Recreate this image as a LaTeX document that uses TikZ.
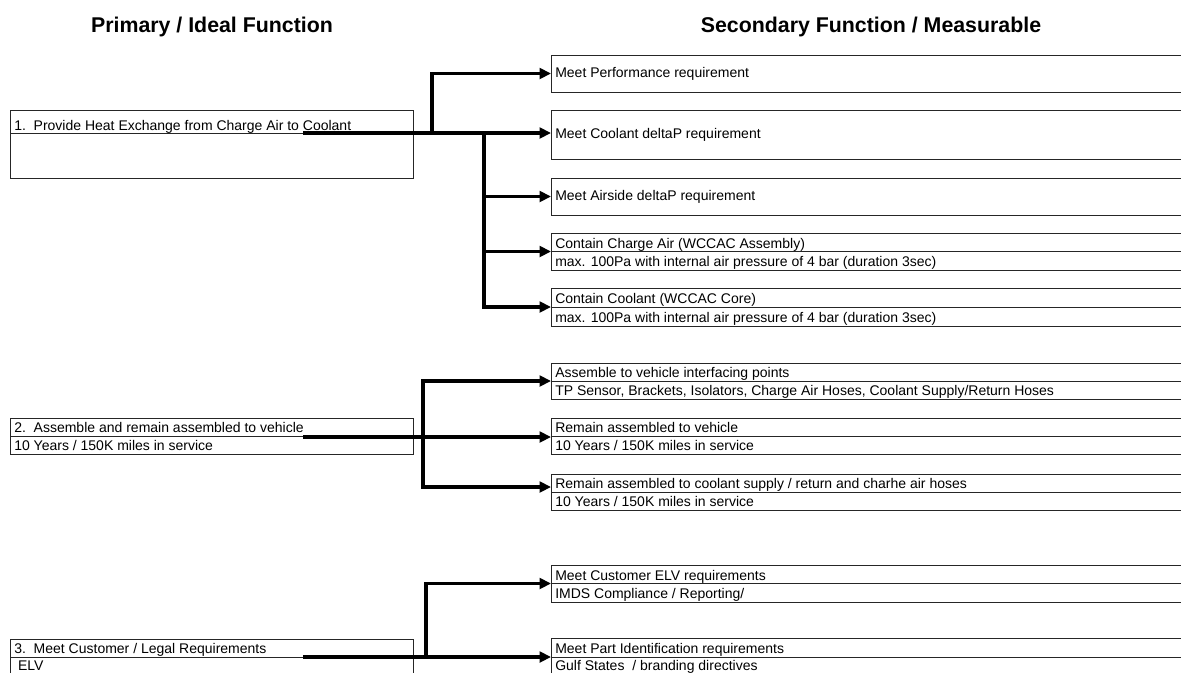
\documentclass[tikz,border=0pt]{standalone}
\usepackage{fontspec}
\setmainfont{Liberation Sans}
\usetikzlibrary{arrows.meta,fit}
\begin{document}
\begin{tikzpicture}[x=0.75pt,y=-0.75pt,
  box/.style={draw=black!85, line width=0.75pt, fill=white, inner sep=0pt, outer sep=0pt},
  divline/.style={draw=black!85, line width=0.75pt},
  lbl/.style={font=\fontsize{10.5}{12}\selectfont, inner sep=0pt, anchor=base west, text=black},
  slbl/.style={lbl, anchor=west},
  ttl/.style={font=\fontsize{16}{19}\selectfont\bfseries, inner sep=0pt, text=black},
  conn/.style={line width=2.9pt, -{Triangle[length=8.5pt,width=8pt]}}]
\useasboundingbox[fill=white] (0,0) rectangle (1181,672);

% titles
\node[ttl] (h1) at (212,27) {Primary / Ideal Function};
\node[ttl] (h2) at (871,27) {Secondary Function / Measurable};

% corner coordinates
\foreach \n/\xa/\ya/\xb/\yb in {
  p1/10/110/413/178, p2/10/418/413/454, p3/10/639/413/676,
  r1/551/55/1200/92, r2/551/110/1200/159, r3/551/178/1200/215,
  r4/551/233/1200/270, r5/551/288/1200/326, r6/551/363/1200/399,
  r7/551/418/1200/454, r8/551/474/1200/510, r9/551/565/1200/602,
  r10/551/638/1200/676}{
  \coordinate (\n a) at (\xa,\ya);
  \coordinate (\n b) at (\xb,\yb);
}

% left boxes
\node[box, fit=(p1a)(p1b)] (p1) {};
\node[box, fit=(p2a)(p2b)] (p2) {};
\node[box, fit=(p3a)(p3b)] (p3) {};
\draw[divline] (10,133) -- (413,133);
\draw[divline] (p2.west) -- (p2.east);
\draw[divline] (p3.west) -- (p3.east);

% right boxes
\foreach \n in {r1,r2,r3,r4,r5,r6,r7,r8,r9,r10}{
  \node[box, fit=(\n a)(\n b)] (\n) {};
}
\foreach \n in {r4,r5,r6,r7,r8,r9,r10}{
  \draw[divline] (\n.west) -- (\n.east);
}

% left texts
\node[lbl] (tp1) at (14,130) {1.\ \ Provide Heat Exchange from Charge Air to Coolant};
\node[lbl] (tp2a) at (14,432.5) {2.\ \ Assemble and remain assembled to vehicle};
\node[lbl] (tp2b) at (14,450.5) {10 Years / 150K miles in service};
\node[lbl] (tp3a) at (14,653.5) {3.\ \ Meet Customer / Legal Requirements};
\node[lbl] (tp3b) at (14,670.5) {\ ELV};

% right texts
\node[slbl] (tr1) at (555,73.5) {Meet Performance requirement};
\node[slbl] (tr2) at (555,134.5) {Meet Coolant deltaP requirement};
\node[slbl] (tr3) at (555,196.5) {Meet Airside deltaP requirement};
\node[lbl] (tr4a) at (555,248) {Contain Charge Air (WCCAC Assembly)};
\node[lbl] (tr4b) at (555,266.5) {max. 100Pa with internal air pressure of 4 bar (duration 3sec)};
\node[lbl] (tr5a) at (555,303.5) {Contain Coolant (WCCAC Core)};
\node[lbl] (tr5b) at (555,322.5) {max. 100Pa with internal air pressure of 4 bar (duration 3sec)};
\node[lbl] (tr6a) at (555,377.5) {Assemble to vehicle interfacing points};
\node[lbl] (tr6b) at (555,395.5) {TP Sensor, Brackets, Isolators, Charge Air Hoses, Coolant Supply/Return Hoses};
\node[lbl] (tr7a) at (555,432.5) {Remain assembled to vehicle};
\node[lbl] (tr7b) at (555,450.5) {10 Years / 150K miles in service};
\node[lbl] (tr8a) at (555,488.5) {Remain assembled to coolant supply / return and charhe air hoses};
\node[lbl] (tr8b) at (555,506.5) {10 Years / 150K miles in service};
\node[lbl] (tr9a) at (555,580) {Meet Customer ELV requirements};
\node[lbl] (tr9b) at (555,598.5) {IMDS Compliance / Reporting/};
\node[lbl] (tr10a) at (555,653.5) {Meet Part Identification requirements};
\node[lbl] (tr10b) at (555,670.5) {Gulf States\ \ / branding directives};

% connectors, group 1
\coordinate (s1) at (303,133);
\coordinate (j1) at (432,133);
\coordinate (j2) at (484,133);
\draw[conn] (s1) -- (r2.west |- s1);
\draw[conn] (j1) |- (r1.west);
\draw[conn] (j2) |- (r3.west);
\draw[conn] (j2) |- (r4.west);
\draw[conn] (j2) |- (r5.west);

% group 2
\coordinate (s2) at (303,437);
\coordinate (j3) at (423,437);
\draw[conn] (s2) -- (r7.west |- s2);
\draw[conn] (j3) |- (r6.west);
\draw[conn] (j3) |- ([yshift=3.75pt]r8.west);

% group 3
\coordinate (s3) at (303,657);
\coordinate (j4) at (426,657);
\draw[conn] (s3) -- (r10.west |- s3);
\draw[conn] (j4) |- (r9.west);
\end{tikzpicture}
\end{document}
